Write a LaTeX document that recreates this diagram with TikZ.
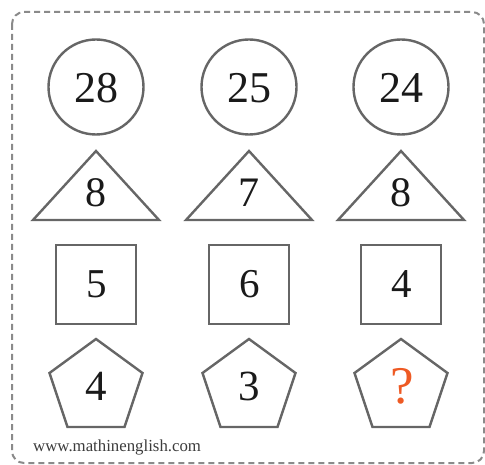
\documentclass[tikz,border=0pt]{standalone}
\usepackage{fontspec}
\setmainfont{Liberation Serif}
\definecolor{shapegray}{HTML}{666666}
\definecolor{bordergray}{HTML}{8A8A8A}
\definecolor{qorange}{HTML}{EE5A24}
\definecolor{txt}{HTML}{1A1A1A}
\tikzset{
  shapeline/.style={draw=shapegray, line width=2.4pt, line join=miter},
  numtxt/.style={text=txt, inner sep=0pt, anchor=center},
}
\begin{document}
\begin{tikzpicture}[x=1pt,y=-1pt]
\useasboundingbox (0,0) rectangle (485,465);
% dashed frame
\draw[bordergray, line width=2pt, dash pattern=on 6pt off 4pt, rounded corners=12pt]
  (12,12) rectangle (484,463);
% columns
\foreach \cx/\cnum/\tnum/\snum [count=\i] in {96/28/8/5, 249/25/7/6, 401/24/8/4} {
  % circle
  \draw[shapeline] (\cx,87) circle (47.5);
  \node[numtxt, font=\fontsize{44}{44}\selectfont] (c\i) at (\cx,88) {\cnum};
  % triangle
  \draw[shapeline] (\cx-63,220) -- (\cx,151) -- (\cx+63,220) -- cycle;
  \node[numtxt, font=\fontsize{42}{42}\selectfont] (t\i) at (\cx,192.5) {\tnum};
  % square
  \draw[shapeline] (\cx-40,245) rectangle (\cx+40,324);
  \node[numtxt, font=\fontsize{41}{41}\selectfont] (s\i) at (\cx+0.5,284) {\snum};
  % pentagon
  \draw[shapeline] (\cx,339) -- (\cx+46.5,373) -- (\cx+28.5,427) -- (\cx-28.5,427) -- (\cx-46.5,373) -- cycle;
}
\node[numtxt, font=\fontsize{43}{43}\selectfont] (p1) at (96,386) {4};
\node[numtxt, font=\fontsize{43}{43}\selectfont] (p2) at (249,386) {3};
\node[numtxt, text=qorange, font=\fontsize{53}{53}\selectfont] (p3) at (402,386) {?};
\node[anchor=base west, inner sep=0pt, text=txt!85, font=\fontsize{16.8}{17}\selectfont] (url) at (33,451) {www.mathinenglish.com};
\end{tikzpicture}
\end{document}
